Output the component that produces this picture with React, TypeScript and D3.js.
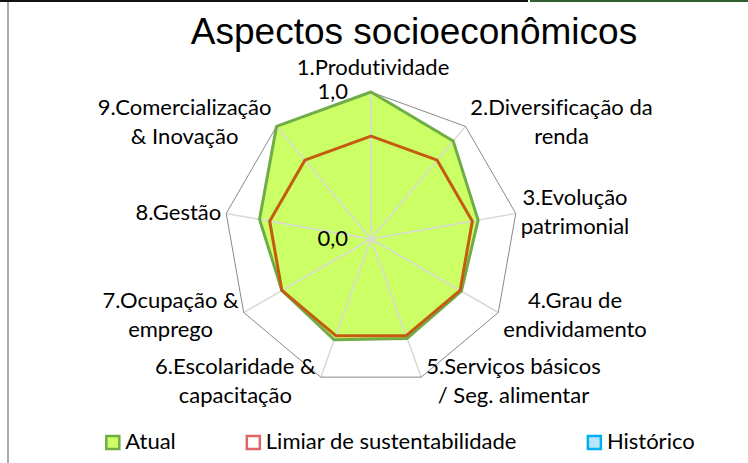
import React, { useMemo } from "react";
import * as d3 from "d3";

const title = "Aspectos socioeconômicos";
const categories = [
  "1.Produtividade",
  "2.Diversificação da\nrenda",
  "3.Evolução\npatrimonial",
  "4.Grau de\nendividamento",
  "5.Serviços básicos\n/ Seg. alimentar",
  "6.Escolaridade &\ncapacitação",
  "7.Ocupação &\nemprego",
  "8.Gestão",
  "9.Comercialização\n& Inovação",
];
const atual = [1.0, 0.87, 0.74, 0.71, 0.72, 0.73, 0.7, 0.77, 1.0];
const limiar = [0.7, 0.7, 0.7, 0.7, 0.7, 0.7, 0.7, 0.7, 0.7];
const historico: (number | null)[] = [null, null, null, null, null, null, null, null, null];
const axisTicks = [0, 1];
const tickLabels = ["0,0", "1,0"];
const seriesNames = ["Atual", "Limiar de sustentabilidade", "Histórico"];

const W = 748;
const H = 463;
const CX = 371;
const CY = 239;
const R = 147;
const FONT = "Lato, 'Open Sans', sans-serif";
const FS = 22;
const LINE_H = 29;

function measure(text: string, size: number, family: string) {
  if (typeof document === "undefined") return text.length * size * 0.5;
  const c = document.createElement("canvas");
  const ctx = c.getContext("2d")!;
  ctx.font = `${size}px ${family}`;
  return ctx.measureText(text).width;
}

const textStyle: React.CSSProperties = {
  fontVariantLigatures: "none",
  fontFeatureSettings: '"liga" 0',
};

export default function App() {
  const n = categories.length;
  const r = d3.scaleLinear().domain([0, 1]).range([0, R]);
  const angle = d3
    .scaleLinear()
    .domain([0, n])
    .range([0, 2 * Math.PI]);

  const radial = d3
    .lineRadial<number>()
    .angle((_, i) => angle(i))
    .radius((d) => r(d))
    .curve(d3.curveLinearClosed);

  const ringPath = radial(categories.map(() => 1)) || "";
  const atualPath = radial(atual) || "";
  const limiarPath = radial(limiar) || "";
  const histValid = historico.every((v) => v != null);
  const histPath = histValid ? radial(historico as number[]) || "" : "";

  const labels = useMemo(
    () =>
      categories.map((c, i) => {
        const lines = c.split("\n");
        const a = angle(i);
        const sa = Math.sin(a);
        const ca = Math.cos(a);
        const vx = CX + r(1) * sa;
        const vy = CY - r(1) * ca;
        const w = Math.max(...lines.map((l) => measure(l, FS, FONT)));
        let x: number, yc: number;
        if (Math.abs(sa) < 0.1) {
          x = vx + 2;
          yc = vy - 24;
        } else {
          x = vx + Math.sign(sa) * (5 + w / 2);
          yc = vy - ca * 5;
        }
        const y0 = yc - ((lines.length - 1) * LINE_H) / 2 + 7;
        return { lines, x, y0 };
      }),
    []
  );

  const legendColors = [
    { fill: "#ccff66", stroke: "#70ad47" },
    { fill: "#ffffff", stroke: "#e06666" },
    { fill: "#b7e6fb", stroke: "#00b0f0" },
  ];
  const legendItems = useMemo(() => {
    const widths = seriesNames.map((s) => 20 + measure(s, FS, FONT));
    const gap = 70;
    const total = d3.sum(widths) + gap * (widths.length - 1);
    let x = 400 - total / 2;
    return seriesNames.map((s, i) => {
      const item = { name: s, x, ...legendColors[i] };
      x += widths[i] + gap;
      return item;
    });
  }, []);

  return (
    <div style={{ position: "fixed", left: 0, top: 0 }}>
      <svg width={W} height={H} style={{ display: "block", background: "#fff" }}>
        <rect x={0} y={0} width={W} height={H} fill="#ffffff" />
        <rect x={0} y={0} width={528} height={2} fill="#111" />
        <rect x={530} y={0} width={218} height={2} fill="#2f5f2f" />
        <rect x={7} y={2} width={2} height={H - 2} fill="#ababab" />

        <text
          x={414}
          y={44}
          textAnchor="middle"
          fontFamily="'Liberation Sans', Arial, sans-serif"
          fontSize={37}
          fill="#000"
        >
          {title}
        </text>

        <g transform={`translate(${CX},${CY})`}>
          <path d={atualPath} fill="#ccff66" stroke="none" />
          {categories.map((_, i) => {
            const a = angle(i);
            return (
              <line
                key={i}
                x1={0}
                y1={0}
                x2={r(1) * Math.sin(a)}
                y2={-r(1) * Math.cos(a)}
                stroke="#d9d9d9"
                strokeWidth={1.5}
              />
            );
          })}
          <path d={ringPath} fill="none" stroke="#8a8a8a" strokeWidth={1} />
          <path d={atualPath} fill="none" stroke="#70ad47" strokeWidth={3} strokeLinejoin="round" />
          <path d={limiarPath} fill="none" stroke="#c55a11" strokeWidth={3} strokeLinejoin="round" />
          {histPath && <path d={histPath} fill="none" stroke="#00b0f0" strokeWidth={3} />}
        </g>

        {axisTicks.map((t, i) => (
          <text
            key={i}
            x={CX - 23}
            y={CY - r(t) + 7}
            textAnchor="end"
            fontFamily={FONT}
            fontSize={FS}
            fill="#000"
            style={textStyle}
          >
            {tickLabels[i]}
          </text>
        ))}

        {labels.map((l, i) => (
          <text key={i} textAnchor="middle" fontFamily={FONT} fontSize={FS} fill="#000" style={textStyle}>
            {l.lines.map((line, j) => (
              <tspan key={j} x={l.x} y={l.y0 + j * LINE_H}>
                {line}
              </tspan>
            ))}
          </text>
        ))}

        {legendItems.map((it, i) => (
          <g key={i}>
            <rect
              x={it.x + 1}
              y={436}
              width={13}
              height={13}
              fill={it.fill}
              stroke={it.stroke}
              strokeWidth={2.5}
            />
            <text x={it.x + 20} y={449} fontFamily={FONT} fontSize={FS} fill="#000" style={textStyle}>
              {it.name}
            </text>
          </g>
        ))}
      </svg>
    </div>
  );
}
